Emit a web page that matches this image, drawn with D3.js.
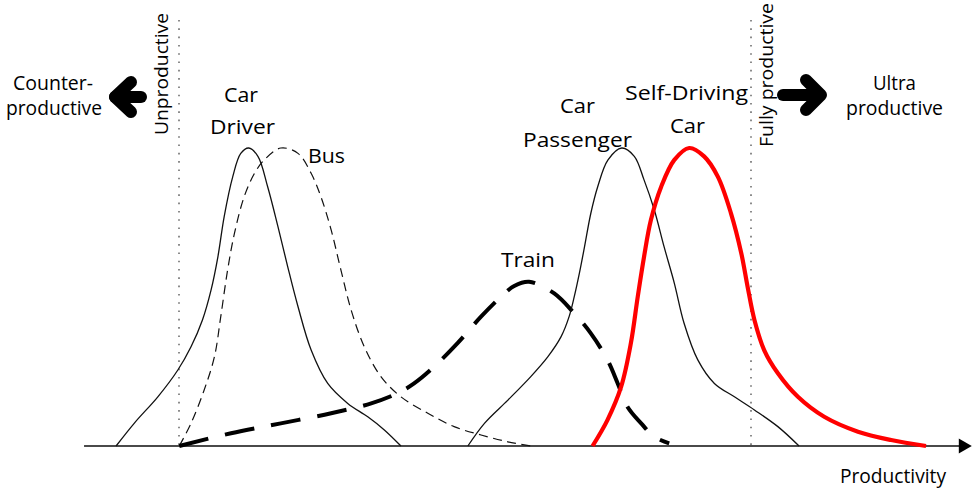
<!DOCTYPE html>
<html>
<head>
<meta charset="utf-8">
<script src="https://cdn.jsdelivr.net/npm/d3@7/dist/d3.min.js"></script>
<style>
  html, body { margin: 0; padding: 0; background: #fff; }
  svg { display: block; }
  text { font-family: "Open Sans", "Noto Sans", Lato, sans-serif; fill: #000; }
</style>
</head>
<body>
<svg id="chart" width="972" height="489"></svg>
<script>
// ---- Data (productivity: 0 = unproductive, 100 = fully productive; density: 1 = peak) ----
const seriesNames = ["Car Driver", "Bus", "Train", "Car Passenger", "Self-Driving Car"];

const carDriver = [
  [-11.0,0],[-7.8,0.077],[-3.7,0.165],[-0.2,0.255],[2.1,0.333],[4.1,0.423],[5.6,0.523],
  [6.8,0.635],[7.9,0.770],[9.4,0.904],[10.8,0.982],[12.2,1.0],[13.8,0.972],[15.5,0.870],
  [17.3,0.736],[19.0,0.602],[20.8,0.468],[23.1,0.322],[26.0,0.210],[29.5,0.143],
  [33.0,0.098],[35.9,0.054],[38.8,0]
];
const bus = [
  [0.05,0],[2.1,0.076],[4.4,0.188],[6.2,0.300],[7.3,0.434],[8.5,0.591],[9.7,0.714],
  [11.4,0.837],[13.2,0.915],[14.9,0.960],[17.8,1.0],[20.8,0.982],[23.1,0.915],[24.8,0.837],
  [26.6,0.725],[28.3,0.591],[30.1,0.456],[32.4,0.333],[35.3,0.233],[38.8,0.165],
  [43.5,0.110],[48.1,0.065],[52.8,0.037],[57.5,0.014],[61.5,0]
];
const train = [
  [0.05,0],[9.1,0.043],[17.8,0.076],[26.6,0.110],[33.6,0.143],[38.2,0.177],[41.1,0.210],
  [44.6,0.266],[48.7,0.345],[52.8,0.434],[56.3,0.501],[58.6,0.537],[61.2,0.551],
  [65.6,0.512],[69.1,0.445],[72.0,0.378],[74.9,0.289],[76.7,0.210],[78.4,0.132],
  [80.8,0.076],[83.1,0.031],[85.7,0.009]
];
const carPassenger = [
  [50.5,0],[53.4,0.076],[57.5,0.154],[61.5,0.233],[64.5,0.300],[66.8,0.367],[68.2,0.434],
  [69.1,0.501],[70.0,0.580],[70.9,0.669],[72.0,0.781],[73.2,0.870],[75.0,0.960],[77.4,1.0],
  [79.6,0.972],[81.3,0.893],[83.1,0.792],[84.8,0.669],[86.6,0.546],[88.3,0.412],
  [90.7,0.289],[93.6,0.210],[97.1,0.165],[100.6,0.121],[104.7,0.065],[108.4,0]
];
const selfDriving = [
  [72.3,0],[74.9,0.087],[77.3,0.199],[79.0,0.345],[80.2,0.501],[81.3,0.635],[82.5,0.758],
  [84.3,0.870],[86.6,0.960],[89.2,1.0],[91.8,0.972],[94.2,0.904],[96.5,0.781],[98.3,0.647],
  [99.4,0.535],[100.6,0.423],[102.3,0.322],[104.7,0.244],[108.2,0.165],[112.8,0.098],
  [118.7,0.048],[124.5,0.020],[130.6,0]
];
const thresholds = [0, 100];
const thresholdLabels = ["Unproductive", "Fully productive"];
const sideLabels = [["Counter-", "productive"], ["Ultra", "productive"]];
const axisLabel = "Productivity";
const axisExtent = [-16.6, 138.6];

// ---- Scales ----
const x = d3.scaleLinear().domain([0, 100]).range([179, 751]);
const y = d3.scaleLinear().domain([0, 1]).range([446, 148]);

const svg = d3.select("#chart");

// threshold dotted lines
svg.selectAll("line.thr").data(thresholds).enter().append("line")
  .attr("x1", d => x(d)).attr("x2", d => x(d))
  .attr("y1", 20).attr("y2", y(0))
  .attr("stroke", "#6f6f6f").attr("stroke-width", 1.6)
  .attr("stroke-dasharray", "1.6,6.7");

// axis
const axY = y(0);
svg.append("line")
  .attr("x1", x(axisExtent[0])).attr("x2", x(axisExtent[1]) - 10)
  .attr("y1", axY).attr("y2", axY)
  .attr("stroke", "#4a4a4a").attr("stroke-width", 2);
const ax2 = x(axisExtent[1]);
svg.append("path")
  .attr("d", `M${ax2},${axY} L${ax2-13},${axY-7.5} L${ax2-13},${axY+7.5} Z`)
  .attr("fill", "#000");

// curves
const line = d3.line()
  .x(d => x(d[0])).y(d => y(d[1]))
  .curve(d3.curveCatmullRom.alpha(0.5));

const styles = [
  {data: carDriver, stroke: "#111", width: 1.3, dash: null},
  {data: bus, stroke: "#111", width: 1.2, dash: "9,5.5"},
  {data: train, stroke: "#000", width: 4, dash: "30,17"},
  {data: carPassenger, stroke: "#111", width: 1.3, dash: null},
  {data: selfDriving, stroke: "#ff0000", width: 4.2, dash: null}
];
styles.forEach(s => {
  svg.append("path")
    .attr("d", line(s.data))
    .attr("fill", "none")
    .attr("stroke", s.stroke)
    .attr("stroke-width", s.width)
    .attr("stroke-linejoin", "round")
    .attr("stroke-dasharray", s.dash);
});

// text helper
function label(txt, cx, by, w, size, anchor) {
  const t = svg.append("text")
    .attr("x", cx).attr("y", by)
    .attr("text-anchor", anchor || "middle")
    .attr("font-size", size || 20)
    .text(txt);
  if (w) t.attr("textLength", w).attr("lengthAdjust", "spacingAndGlyphs");
  return t;
}

// series labels
label("Car", 241, 102, 34);
label("Driver", 242.5, 134, 65);
label("Bus", 326.5, 163, 37);
label("Train", 528, 267, 54);
label("Car", 577.5, 113, 35);
label("Passenger", 577.5, 147, 109);
label("Self-Driving", 686.5, 100, 123);
label("Car", 687.5, 133, 35);

// side labels
label(sideLabels[0][0], 53, 90, 80);
label(sideLabels[0][1], 54, 115, 96);
label(sideLabels[1][0], 894.5, 90, 43);
label(sideLabels[1][1], 894.5, 115, 97);

// axis label
label(axisLabel, 893, 483, 106);

// threshold rotated labels
svg.append("text")
  .attr("transform", `translate(${x(thresholds[0]) - 11},135) rotate(-90)`)
  .attr("text-anchor", "start").attr("font-size", 18)
  .attr("textLength", 122).attr("lengthAdjust", "spacingAndGlyphs")
  .text(thresholdLabels[0]);
svg.append("text")
  .attr("transform", `translate(${x(thresholds[1]) + 22},147) rotate(-90)`)
  .attr("text-anchor", "start").attr("font-size", 18)
  .attr("textLength", 144).attr("lengthAdjust", "spacingAndGlyphs")
  .text(thresholdLabels[1]);

// arrows
function arrow(pts) {
  svg.append("path")
    .attr("d", d3.line()(pts))
    .attr("fill", "none").attr("stroke", "#000")
    .attr("stroke-width", 12)
    .attr("stroke-linecap", "round").attr("stroke-linejoin", "round");
}
arrow([[141,97],[115,97]]);
arrow([[131,82],[115,97],[131,112]]);
arrow([[783,95],[820,95]]);
arrow([[806,80],[821,95],[806,110]]);
</script>
</body>
</html>
